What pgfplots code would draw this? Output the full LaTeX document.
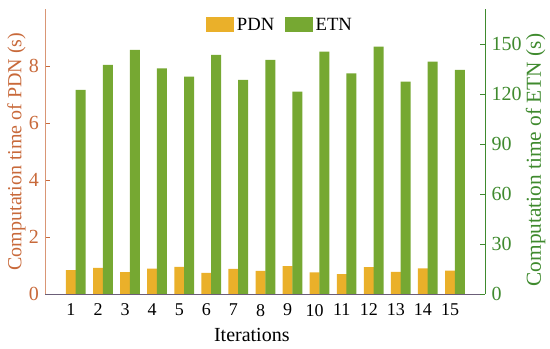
\documentclass[border=0pt]{standalone}
\usepackage{pgfplots}
\pgfplotsset{compat=1.18}
\usepackage{fontspec}
\setmainfont{Liberation Serif}
\definecolor{pdnc}{HTML}{EAB02A}
\definecolor{etnc}{HTML}{76A832}
\definecolor{leftc}{HTML}{C8693A}
\definecolor{rightc}{HTML}{3F8A2E}
\definecolor{botc}{HTML}{6B5E78}

\pgfplotstableread{
it pdn etn
1 0.84 122.4
2 0.92 137.4
3 0.77 146.4
4 0.89 135.4
5 0.95 130.4
6 0.74 143.4
7 0.88 128.4
8 0.81 140.4
9 0.98 121.4
10 0.76 145.4
11 0.70 132.4
12 0.94 148.4
13 0.78 127.4
14 0.90 139.4
15 0.82 134.4
}\datatable

\begin{document}
\begin{tikzpicture}
\pgfplotsset{
  every axis/.append style={
    scale only axis, width=330pt, height=213.75pt,
    xmin=0.04, xmax=16.29,
    /pgf/number format/assume math mode=true,
    yticklabel style={font=\fontsize{15}{16}\selectfont},
    xticklabel style={font=\fontsize{13.5}{14}\selectfont},
    label style={font=\fontsize{15}{17}\selectfont},
    tick align=inside, major tick length=4pt,
  }
}
\begin{axis}[
  axis x line*=bottom, axis y line*=left,
  ymin=0, ymax=10,
  ytick={0,2,4,6,8},
  xtick={1,...,15},
  xlabel={Iterations},
  ylabel={Computation time of PDN (s)},
  ylabel style={text=leftc, at={(axis description cs:-0.065,0.5)}, anchor=center},
  xlabel style={at={(axis description cs:0.47,0)}, yshift=-30.75pt, anchor=center},
  y axis line style={draw=leftc!70},
  x axis line style={draw=botc},
  yticklabel style={text=leftc, xshift=-1pt},
  xticklabel style={yshift=-4pt},
  ytick style={draw=leftc},
  xtick style={draw=black},
]
\addplot[ybar, bar width=7.5pt, bar shift=0pt, fill=pdnc, draw=none] table[x=it,y=pdn] {\datatable};
\end{axis}
\begin{axis}[
  axis y line*=right, axis x line=none,
  ymin=0, ymax=171,
  ytick={0,30,60,90,120,150},
  ylabel={Computation time of ETN (s)},
  ylabel style={text=rightc, font=\fontsize{16}{17}\selectfont,
    at={(axis description cs:1.115,0.47)}, anchor=center, rotate=0},
  y axis line style={draw=rightc},
  yticklabel style={text=rightc, xshift=1.5pt},
  ytick style={draw=rightc},
  legend style={at={(0.535,0.944)}, anchor=center, draw=none, fill=none,
    legend columns=2, font=\fontsize{14}{15}\selectfont,
    /tikz/every even column/.append style={column sep=6pt}},
  legend image code/.code={\fill[#1] (0pt,-5.6pt) rectangle (21pt,5.6pt);},
]
\addlegendimage{fill=pdnc, draw=none}
\addlegendentry{PDN}
\addplot[ybar, bar width=7.5pt, bar shift=7.3pt, fill=etnc, draw=none] table[x=it,y=etn] {\datatable};
\addlegendentry{ETN}
\end{axis}
\pgfresetboundingbox
\path (-33.75pt,-41.25pt) rectangle (378.75pt,220.5pt);
\end{tikzpicture}
\end{document}
